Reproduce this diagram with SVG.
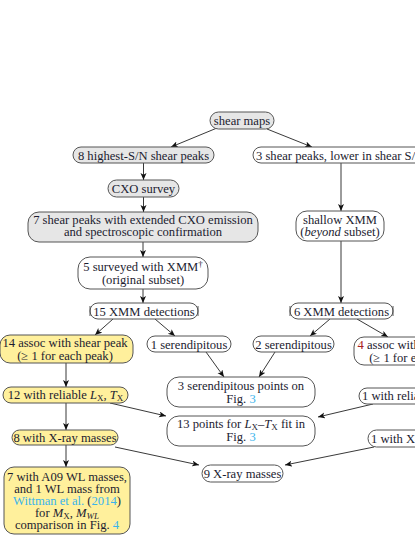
<svg xmlns="http://www.w3.org/2000/svg" width="415" height="537" viewBox="0 0 415 537">
<style>
text{font-family:"Liberation Serif","Times New Roman",serif;font-size:12.6px;fill:#1c1c30;text-anchor:middle}
.l{text-anchor:start}
.g{fill:#e6e6e6;stroke:#555;stroke-width:1}
.w{fill:#fff;stroke:#555;stroke-width:1}
.y{fill:#fff09c;stroke:#555;stroke-width:1}
.c{fill:#3ab4ec}
.r{fill:#a82020}
.i{font-style:italic}
.s{font-size:9px;baseline-shift:-2px}
.p{font-size:9px;baseline-shift:4px}
.e{stroke:#222;stroke-width:0.9;fill:none;marker-end:url(#a)}
.t{stroke:#555;stroke-width:1;fill:none}
</style>
<defs>
<marker id="a" markerUnits="userSpaceOnUse" markerWidth="8" markerHeight="7" refX="7" refY="3" orient="auto">
<path d="M0,0 L7,3 L0,6 L1.8,3 z" fill="#111"/>
</marker>
</defs>
<g id="connectors">
<line class="e" x1="217" y1="128" x2="171" y2="147"/>
<line class="e" x1="267" y1="129" x2="312" y2="147"/>
<line class="e" x1="143.5" y1="163" x2="143.5" y2="180"/>
<line class="e" x1="143.5" y1="197" x2="143.5" y2="212"/>
<line class="e" x1="143" y1="242" x2="143" y2="257"/>
<line class="e" x1="143" y1="289" x2="143" y2="303"/>
<line class="e" x1="341" y1="163" x2="341" y2="211"/>
<line class="e" x1="341" y1="241" x2="341" y2="303"/>
<line class="e" x1="113" y1="319" x2="95" y2="335"/>
<line class="e" x1="155" y1="319" x2="175" y2="336"/>
<line class="e" x1="330" y1="319" x2="310" y2="336"/>
<line class="e" x1="357" y1="319" x2="388" y2="337"/>
<line class="e" x1="206" y1="352" x2="224" y2="377"/>
<line class="e" x1="275" y1="352" x2="259" y2="377"/>
<line class="e" x1="66" y1="363" x2="66" y2="387"/>
<line class="e" x1="66" y1="403" x2="66" y2="430"/>
<line class="e" x1="66" y1="445" x2="66" y2="467"/>
<line class="e" x1="110" y1="403" x2="166" y2="416"/>
<line class="e" x1="373" y1="404" x2="318" y2="417"/>
<line class="e" x1="115" y1="447" x2="199" y2="465"/>
<line class="e" x1="374" y1="447" x2="285" y2="465"/>
</g>
<g id="shear-maps">
<rect class="g" x="210" y="112" width="64" height="17" rx="8.5"/>
<text x="242" y="124.5">shear maps</text>
</g>
<g id="highest-peaks">
<rect class="g" x="73" y="147" width="141" height="16" rx="8"/>
<text x="143.5" y="159.5">8 highest-S/N shear peaks</text>
</g>
<g id="lower-peaks">
<rect class="w" x="253" y="147" width="200" height="16" rx="8"/>
<text class="l" x="256" y="159.5">3 shear peaks, lower in shear S/N</text>
</g>
<g id="cxo-survey">
<rect class="g" x="108" y="180" width="71" height="17" rx="8.5"/>
<text x="143.5" y="192.5">CXO survey</text>
</g>
<g id="extended-cxo">
<rect class="g" x="28" y="212" width="230" height="30" rx="11"/>
<text x="143" y="224">7 shear peaks with extended CXO emission</text>
<text x="143" y="236">and spectroscopic confirmation</text>
</g>
<g id="shallow-xmm">
<rect class="w" x="296" y="211" width="88" height="30" rx="11"/>
<text x="340" y="223.5">shallow XMM</text>
<text x="340" y="235.5">(<tspan class="i">beyond</tspan> subset)</text>
</g>
<g id="surveyed-xmm">
<rect class="w" x="78" y="257" width="130" height="32" rx="12"/>
<text x="143" y="271">5 surveyed with XMM<tspan class="p">†</tspan></text>
<text x="143" y="284">(original subset)</text>
</g>
<g id="xmm15">
<rect class="w" x="90" y="303" width="108" height="16" rx="8"/>
<path class="t" d="M90,306 V316 M198,306 V316"/>
<text x="144" y="315.5">15 XMM detections</text>
</g>
<g id="xmm6">
<rect class="w" x="290" y="303" width="103" height="16" rx="8"/>
<path class="t" d="M290,306 V316 M393,306 V316"/>
<text x="341.5" y="315.5">6 XMM detections</text>
</g>
<g id="assoc14">
<rect class="y" x="0" y="335" width="133" height="28" rx="10"/>
<text x="65" y="347">14 assoc with shear peak</text>
<text x="65" y="360">(≥ 1 for each peak)</text>
</g>
<g id="seren1">
<rect class="w" x="147" y="336" width="84" height="16" rx="8"/>
<text x="189" y="348.5">1 serendipitous</text>
</g>
<g id="seren2">
<rect class="w" x="253" y="336" width="81" height="16" rx="8"/>
<text x="293.5" y="348.5">2 serendipitous</text>
</g>
<g id="assoc4">
<rect class="w" x="354" y="337" width="127" height="28" rx="10"/>
<text x="417" y="349"><tspan class="r">4</tspan> assoc with shear peak</text>
<text x="417" y="362">(≥ 1 for each peak)</text>
</g>
<g id="seren-points">
<rect class="w" x="167" y="377" width="148" height="30" rx="12"/>
<text x="241" y="390">3 serendipitous points on</text>
<text x="241" y="402.5">Fig. <tspan class="c">3</tspan></text>
</g>
<g id="lt-fit">
<rect class="w" x="167" y="416" width="148" height="30" rx="12"/>
<text x="241" y="428">13 points for <tspan class="i">L</tspan><tspan class="s">X</tspan>–<tspan class="i">T</tspan><tspan class="s">X</tspan> fit in</text>
<text x="241" y="440.5">Fig. <tspan class="c">3</tspan></text>
</g>
<g id="reliable12">
<rect class="y" x="3" y="387" width="125" height="16" rx="8"/>
<text x="65.5" y="399">12 with reliable <tspan class="i">L</tspan><tspan class="s">X</tspan>, <tspan class="i">T</tspan><tspan class="s">X</tspan></text>
</g>
<g id="reliable1">
<rect class="w" x="359" y="388" width="125" height="16" rx="8"/>
<text class="l" x="362" y="400">1 with reliable <tspan class="i">L</tspan><tspan class="s">X</tspan>, <tspan class="i">T</tspan><tspan class="s">X</tspan></text>
</g>
<g id="xray8">
<rect class="y" x="12" y="430" width="106" height="15" rx="7.5"/>
<text x="65" y="441.5">8 with X-ray masses</text>
</g>
<g id="xray1">
<rect class="w" x="368" y="430" width="106" height="17" rx="8.5"/>
<text class="l" x="371" y="442.5">1 with X-ray masses</text>
</g>
<g id="xray9">
<rect class="w" x="202" y="465" width="81" height="17" rx="8.5"/>
<text x="242.5" y="477.5">9 X-ray masses</text>
</g>
<g id="wl-masses">
<rect class="y" x="4" y="467" width="126" height="67" rx="10"/>
<text x="67" y="481">7 with A09 WL masses,</text>
<text x="67" y="493">and 1 WL mass from</text>
<text x="67" y="505"><tspan class="c">Wittman et al.</tspan> (<tspan class="c">2014</tspan>)</text>
<text x="67" y="517">for <tspan class="i">M</tspan><tspan class="s">X</tspan>, <tspan class="i">M</tspan><tspan class="s i">WL</tspan></text>
<text x="67" y="529">comparison in Fig. <tspan class="c">4</tspan></text>
</g>
</svg>
